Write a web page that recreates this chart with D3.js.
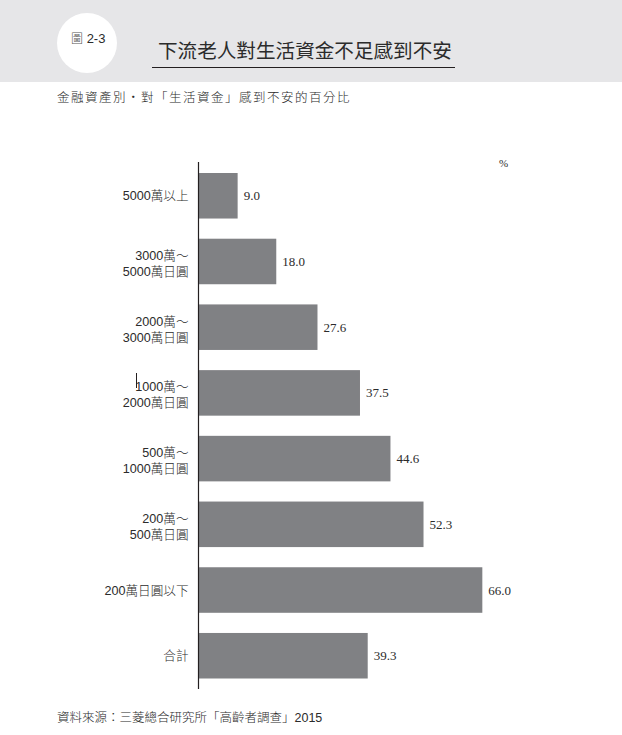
<!DOCTYPE html>
<html lang="zh-Hant">
<head>
  <meta charset="UTF-8">
  <title>下流老人對生活資金不足感到不安</title>
  <style>
    body { margin: 0; background: #fff; }
    svg text { font-family: "Liberation Sans", "Noto Sans CJK TC", sans-serif; fill: #2b2b2b; font-weight: 300; }
  </style>
  <script src="https://d3js.org/d3.v7.min.js"></script>
</head>
<body>
<script>
  // categories (each label split into lines) and values, in %
  const categories = [
    ["5000萬以上"],
    ["3000萬～", "5000萬日圓"],
    ["2000萬～", "3000萬日圓"],
    ["1000萬～", "2000萬日圓"],
    ["500萬～", "1000萬日圓"],
    ["200萬～", "500萬日圓"],
    ["200萬日圓以下"],
    ["合計"]
  ];
  const values = [9.0, 18.0, 27.6, 37.5, 44.6, 52.3, 66.0, 39.3];

  const figNo = "2-3";
  const title = "下流老人對生活資金不足感到不安";
  const subtitle = "金融資產別・對「生活資金」感到不安的百分比";
  const source = "資料來源：三菱總合研究所「高齡者調查」2015";

  const W = 622, H = 735;
  const svg = d3.select("body").append("svg")
    .attr("width", W)
    .attr("height", H);

  // header band
  svg.append("rect")
    .attr("x", 0).attr("y", 0)
    .attr("width", W).attr("height", 82)
    .attr("fill", "#e6e6e8");

  svg.append("circle")
    .attr("cx", 87).attr("cy", 43).attr("r", 30)
    .attr("fill", "#fff");

  const fig = svg.append("text")
    .attr("x", 71).attr("y", 43)
    .style("font-size", "13px");
  fig.append("tspan").text("圖").style("font-size", "12px").attr("fill", "#555");
  fig.append("tspan").text(" " + figNo);

  svg.append("text")
    .attr("x", 158).attr("y", 58)
    .style("font-family", "Noto Sans CJK TC, sans-serif")
    .style("font-size", "19.6px")
    .style("font-weight", 400)
    .attr("fill", "#231f20")
    .text(title);

  svg.append("line")
    .attr("x1", 152).attr("x2", 455)
    .attr("y1", 67.5).attr("y2", 67.5)
    .attr("stroke", "#231f20")
    .attr("stroke-width", 1.2);

  svg.append("text")
    .attr("x", 57).attr("y", 102)
    .style("font-size", "12.5px")
    .style("letter-spacing", "1.5px")
    .text(subtitle);

  // scales
  const x = d3.scaleLinear().domain([0, 70]).range([199, 499.5]);
  const y = d3.scaleBand()
    .domain(d3.range(categories.length))
    .range([173, 678.5])
    .paddingInner(0.307)
    .paddingOuter(0);

  const g = svg.append("g");

  g.selectAll("rect.bar")
    .data(values)
    .join("rect")
    .attr("class", "bar")
    .attr("x", x(0))
    .attr("y", (d, i) => y(i))
    .attr("width", d => x(d) - x(0))
    .attr("height", y.bandwidth())
    .attr("fill", "#808184");

  // value labels
  g.selectAll("text.val")
    .data(values)
    .join("text")
    .attr("class", "val")
    .attr("x", d => x(d) + 6)
    .attr("y", (d, i) => y(i) + y.bandwidth() / 2 + 4.5)
    .style("font-family", "Liberation Serif, serif")
    .style("font-size", "13px")
    .attr("fill", "#231f20")
    .text(d => d.toFixed(1));

  // category labels
  const lab = g.selectAll("text.cat")
    .data(categories)
    .join("text")
    .attr("class", "cat")
    .attr("text-anchor", "end")
    .style("font-size", "12.6px")
    .attr("y", (d, i) => y(i) + y.bandwidth() / 2 + 4.5 - (d.length - 1) * 6);

  lab.selectAll("tspan")
    .data(d => d)
    .join("tspan")
    .attr("x", 188.5)
    .attr("dy", (d, i) => i === 0 ? 0 : 16)
    .text(d => d);

  // axis line
  svg.append("line")
    .attr("x1", 198.5).attr("x2", 198.5)
    .attr("y1", 162).attr("y2", 689)
    .attr("stroke", "#231f20")
    .attr("stroke-width", 1.2);

  svg.append("text")
    .attr("x", 499).attr("y", 167)
    .style("font-family", "Liberation Serif, serif")
    .style("font-size", "11px")
    .text("%");

  // stray mark in front of the 1000萬 label in the original
  svg.append("line")
    .attr("x1", 136.5).attr("x2", 136.5)
    .attr("y1", 373).attr("y2", 388)
    .attr("stroke", "#231f20")
    .attr("stroke-width", 1);

  svg.append("text")
    .attr("x", 57).attr("y", 722)
    .style("font-size", "12.5px")
    .text(source);
</script>
</body>
</html>
